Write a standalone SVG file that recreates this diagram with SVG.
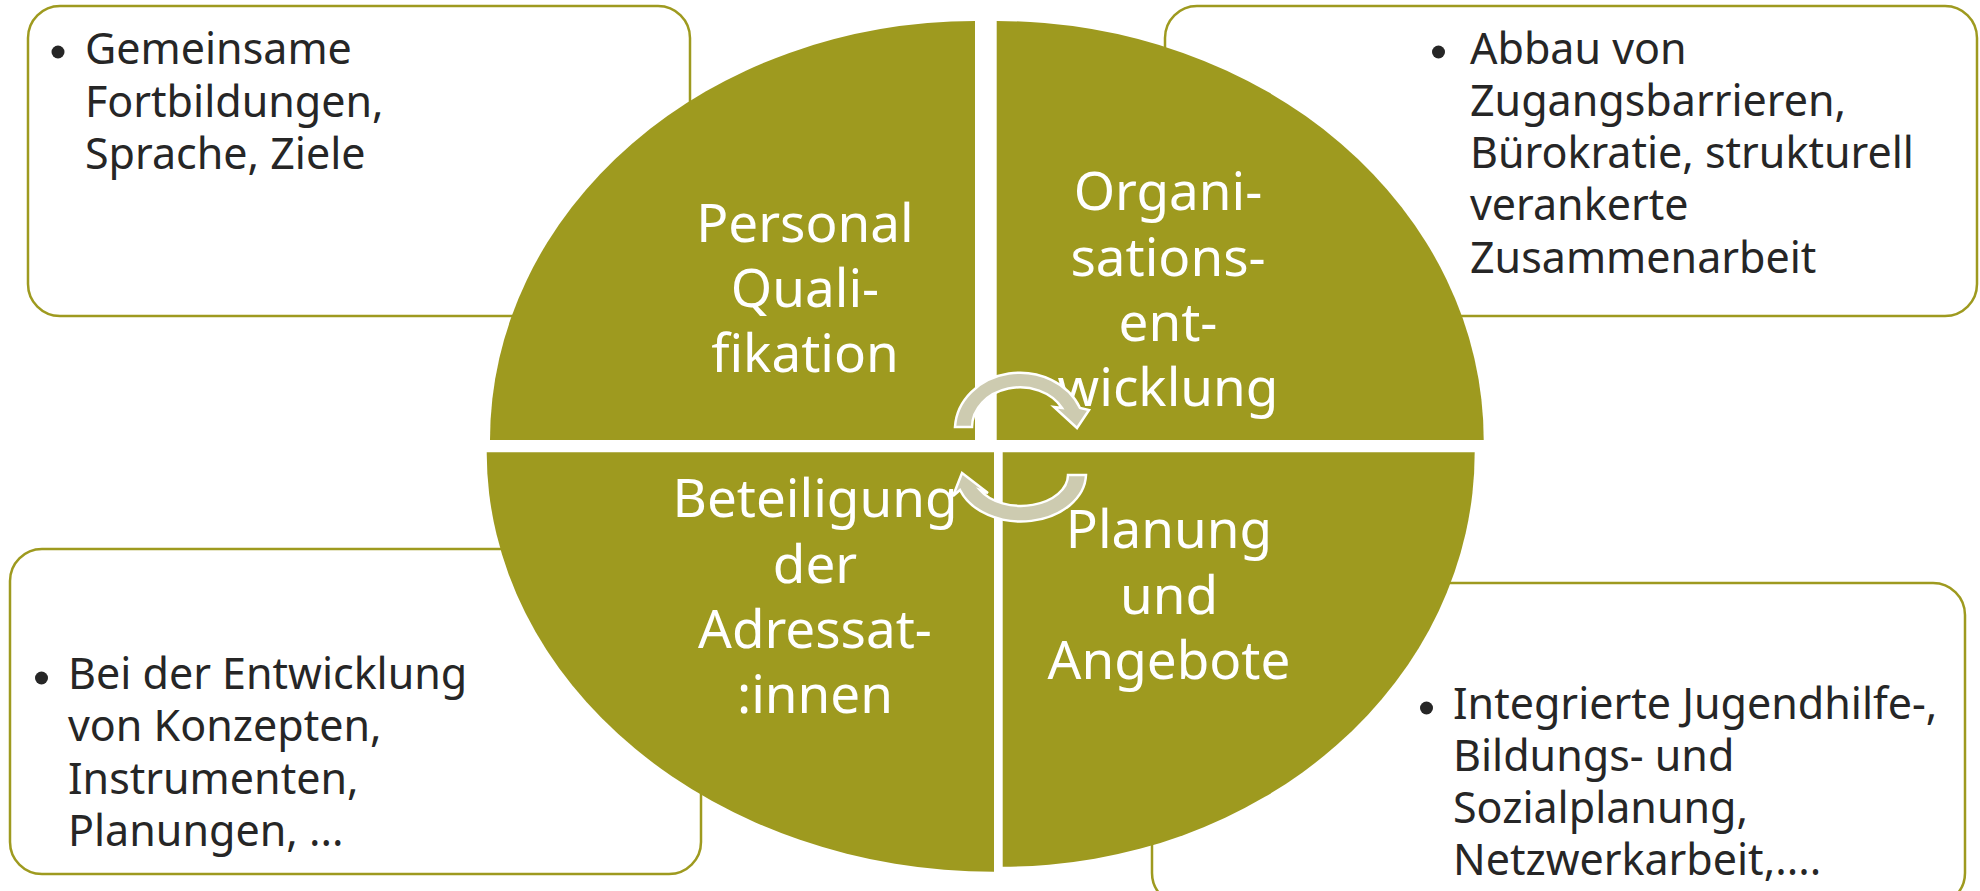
<svg xmlns="http://www.w3.org/2000/svg" width="1980" height="891" viewBox="0 0 1980 891">
<style>
.box{fill:#fff;stroke:#9E9A1F;stroke-width:2.5}
.pie{fill:#9E9A1F}
.bt{font-family:"Noto Sans","DejaVu Sans",sans-serif;font-size:43px;fill:#262626}
.pt{font-family:"Noto Sans","DejaVu Sans",sans-serif;font-size:53px;fill:#fff;text-anchor:middle}
.dot{fill:#262626}
.arr{fill:#CDCBB0;stroke:#fff;stroke-width:2.5;stroke-linejoin:miter}
</style>
<rect width="1980" height="891" fill="#fff"/>
<g id="box-personal">
<rect class="box" x="28" y="6" width="662" height="310" rx="32"/>
<circle class="dot" cx="58" cy="52" r="6.5"/>
<text class="bt"><tspan x="85" y="64">Gemeinsame</tspan><tspan x="85" y="116.5">Fortbildungen,</tspan><tspan x="85" y="168.5">Sprache, Ziele</tspan></text>
</g>
<g id="box-organisation">
<rect class="box" x="1165" y="6" width="812" height="310" rx="32"/>
<circle class="dot" cx="1438.5" cy="52" r="6.5"/>
<text class="bt"><tspan x="1470" y="64">Abbau von</tspan><tspan x="1470" y="116">Zugangsbarrieren,</tspan><tspan x="1470" y="168">Bürokratie, strukturell</tspan><tspan x="1470" y="220">verankerte</tspan><tspan x="1470" y="272.5">Zusammenarbeit</tspan></text>
</g>
<g id="box-beteiligung">
<rect class="box" x="10" y="549" width="691" height="325" rx="32"/>
<circle class="dot" cx="41.5" cy="678" r="6.5"/>
<text class="bt"><tspan x="68" y="689">Bei der Entwicklung</tspan><tspan x="68" y="741">von Konzepten,</tspan><tspan x="68" y="794">Instrumenten,</tspan><tspan x="68" y="846">Planungen, ...</tspan></text>
</g>
<g id="box-planung">
<rect class="box" x="1152" y="583" width="813" height="322" rx="32"/>
<circle class="dot" cx="1426.5" cy="708" r="6.5"/>
<text class="bt"><tspan x="1453" y="718.5">Integrierte Jugendhilfe-,</tspan><tspan x="1453" y="771">Bildungs- und</tspan><tspan x="1453" y="823">Sozialplanung,</tspan><tspan x="1453" y="875">Netzwerkarbeit,....</tspan></text>
</g>
<g id="node-personal">
<path class="pie" d="M975,440 L490,440 A485 419 0 0 1 975,21 Z"/>
<text class="pt"><tspan x="805" y="241.5">Personal</tspan><tspan x="805" y="306.5">Quali-</tspan><tspan x="805" y="372">fikation</tspan></text>
</g>
<g id="node-organisation">
<path class="pie" d="M996.7,440 L996.7,21 A487 419 0 0 1 1483.7,440 Z"/>
<text class="pt"><tspan x="1168" y="210">Organi-</tspan><tspan x="1168" y="275.5">sations-</tspan><tspan x="1168" y="341">ent-</tspan><tspan x="1168" y="406">wicklung</tspan></text>
</g>
<g id="node-planung">
<path class="pie" d="M1002.7,452.3 L1474.7,452.3 A472 414.4 0 0 1 1002.7,866.7 Z"/>
<text class="pt"><tspan x="1169" y="548">Planung</tspan><tspan x="1169" y="613.5">und</tspan><tspan x="1169" y="679">Angebote</tspan></text>
</g>
<g id="node-beteiligung">
<path class="pie" d="M994,452.3 L994,871.7 A507.3 419.4 0 0 1 486.7,452.3 Z"/>
<text class="pt"><tspan x="815" y="517">Beteiligung</tspan><tspan x="815" y="582.5">der</tspan><tspan x="815" y="648">Adressat-</tspan><tspan x="815" y="713">:innen</tspan></text>
</g>
<g id="connectors">
<path class="arr" d="M955,427 A65 57 0 0 1 1080,408 L1089,410 L1077,428 L1054,407 L1062,408 A48 40 0 0 0 972,427 Z"/>
<path class="arr" d="M1086,475 A65 48 0 0 1 960,490 L953,496 L962,473 L988,493 L980,490 A47 31 0 0 0 1068,475 Z"/>
</g>
</svg>
